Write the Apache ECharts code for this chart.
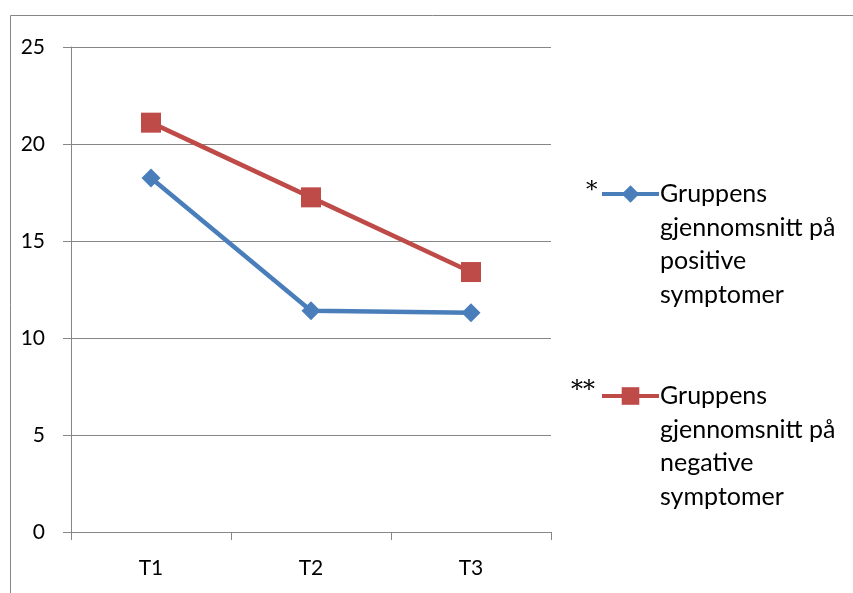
<!DOCTYPE html>
<html>
<head>
<meta charset="utf-8">
<script src="https://cdn.jsdelivr.net/npm/echarts@6/dist/echarts.min.js"></script>
<style>
html,body{margin:0;padding:0;background:#fff;}
#main{width:853px;height:593px;}
</style>
</head>
<body>
<div id="main"></div>
<script>
var categories = ['T1', 'T2', 'T3'];
var positiveValues = [18.25, 11.4, 11.3];
var negativeValues = [21.1, 17.25, 13.4];
var seriesNames = ['Gruppens\ngjennomsnitt på\npositive\nsymptomer', 'Gruppens\ngjennomsnitt på\nnegative\nsymptomer'];
var yTicks = { min: 0, max: 25, interval: 5 };

var FONT = 'Lato';
var GRAY = '#868686';
var LH = 33.5;
function legendFor(name, iconY) {
  return {
    orient: 'vertical',
    left: 600,
    top: iconY - 3.5 * LH,
    padding: 0,
    itemWidth: 57,
    itemHeight: 22,
    data: [name],
    lineStyle: { width: 4 },
    formatter: function (n) { return '\n\n\n' + n; },
    textStyle: { fontSize: 25, lineHeight: LH, color: '#000', fontFamily: FONT, padding: [0, 0, 0, -4] }
  };
}
var chart = echarts.init(document.getElementById('main'));
chart.setOption({
  animation: false,
  backgroundColor: '#fff',
  textStyle: { fontFamily: FONT },
  grid: { left: 71, right: 302, top: 47, bottom: 61 },
  xAxis: {
    type: 'category',
    data: categories,
    boundaryGap: true,
    axisLine: { lineStyle: { color: GRAY, width: 1 } },
    axisTick: { show: true, length: 8, lineStyle: { color: GRAY } },
    axisLabel: { color: '#000', fontSize: 21, fontFamily: FONT, margin: 26 },
    splitLine: { show: false }
  },
  yAxis: {
    type: 'value',
    min: yTicks.min, max: yTicks.max, interval: yTicks.interval,
    axisLine: { show: true, lineStyle: { color: GRAY, width: 1 } },
    axisTick: { show: true, length: 8, lineStyle: { color: GRAY } },
    axisLabel: { color: '#000', fontSize: 21, fontFamily: FONT, margin: 26 },
    splitLine: { show: true, lineStyle: { color: GRAY, width: 1 } }
  },
  legend: [legendFor(seriesNames[0], 194), legendFor(seriesNames[1], 396)],
  graphic: [
    { type: 'rect', shape: { x: 10.5, y: 15.5, width: 900, height: 700 }, style: { fill: 'none', stroke: GRAY, lineWidth: 1 }, silent: true, z: -10 },
    { type: 'text', left: 586, top: 180, style: { text: '*', fontSize: 23, fontFamily: 'DejaVu Serif', fill: '#000' } },
    { type: 'text', left: 571, top: 379, style: { text: '**', fontSize: 24, fontFamily: 'DejaVu Serif', fill: '#000' } }
  ],
  series: [
    {
      name: seriesNames[0], type: 'line', data: positiveValues,
      symbol: 'diamond', symbolSize: 19,
      itemStyle: { color: '#4A7EBB' },
      lineStyle: { color: '#4A7EBB', width: 4.5 }
    },
    {
      name: seriesNames[1], type: 'line', data: negativeValues,
      symbol: 'rect', symbolSize: 20,
      itemStyle: { color: '#BE4B48' },
      lineStyle: { color: '#BE4B48', width: 4.5 }
    }
  ]
});
</script>
</body>
</html>
